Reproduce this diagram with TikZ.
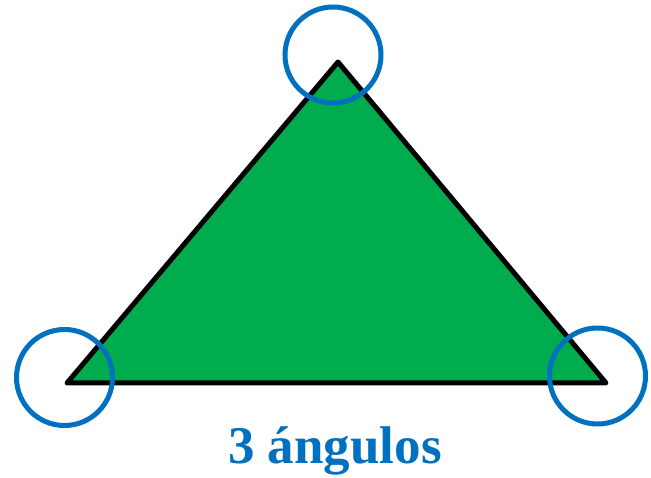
\documentclass[tikz,border=0pt]{standalone}
\usepackage{fontspec}
\setmainfont{Liberation Serif}
\usepackage{tikz}
\usetikzlibrary{positioning}
\definecolor{trigreen}{HTML}{00AC4E}
\definecolor{markblue}{HTML}{0070C0}

\begin{document}
\begin{tikzpicture}[
    x=1pt, y=1pt,
    triangle/.style={draw=black, line width=5pt, fill=trigreen, line join=round},
    angmark/.style={draw=markblue, line width=5pt, circle, minimum size=96pt, inner sep=0pt},
    caption/.style={text=markblue, font=\fontsize{53}{60}\selectfont\bfseries, anchor=base}
]
    \useasboundingbox (0,0) rectangle (651,477);

    % Vertices
    \coordinate (apex) at (338,415);
    \coordinate (left) at (67,94);
    \coordinate (right) at (606,94);

    % Triangle
    \draw[triangle] (left) -- (apex) -- (right) -- cycle;

    % Angle marks
    \node[angmark] (topmark) at (333,422) {};
    \node[angmark] (leftmark) at (64.5,99.5) {};
    \node[angmark] (rightmark) at (597.5,101) {};

    % Label
    \node[caption] (label) at (335,13) {3 ángulos};

\end{tikzpicture}
\end{document}
